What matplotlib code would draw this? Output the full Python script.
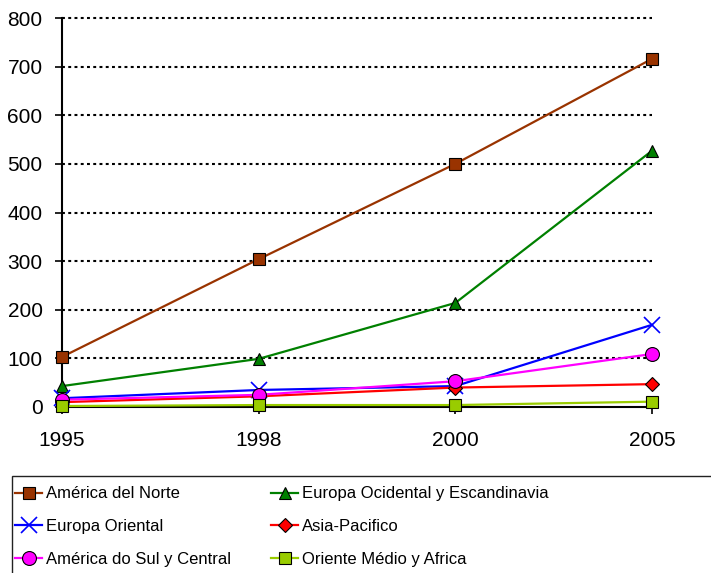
import matplotlib
matplotlib.use("Agg")
import matplotlib.pyplot as plt
from matplotlib.patches import Rectangle

years = ["1995", "1998", "2000", "2005"]
america_norte = [103, 304, 500, 716]
europa_ocidental = [43, 99, 214, 527]
europa_oriental = [18, 35, 43, 169]
asia_pacifico = [10, 22, 40, 47]
america_sul = [15, 25, 53, 109]
oriente_medio = [2, 4, 4, 11]

series = [
    ("América del Norte", america_norte, "#993300", "s"),
    ("Europa Ocidental y Escandinavia", europa_ocidental, "#008000", "^"),
    ("Europa Oriental", europa_oriental, "#0000FF", "x"),
    ("Asia-Pacifico", asia_pacifico, "#FF0000", "D"),
    ("América do Sul y Central", america_sul, "#FF00FF", "o"),
    ("Oriente Médio y Africa", oriente_medio, "#99CC00", "s"),
]

plt.rcParams['font.family'] = ['Liberation Sans', 'DejaVu Sans']

fig = plt.figure(figsize=(7.11, 5.73), dpi=100)
ax = fig.add_axes([62/711, 1-407/573, (652-62)/711, (407-18)/573])

x = list(range(len(years)))
handles = []
for name, vals, color, marker in series:
    if marker == "x":
        h, = ax.plot(x, vals, color=color, lw=1.6, marker=marker, ms=11,
                     mew=1.2, label=name, clip_on=False, zorder=3)
    else:
        ms = {"s": 9, "^": 9, "D": 7, "o": 10}[marker]
        h, = ax.plot(x, vals, color=color, lw=1.6, marker=marker, ms=ms,
                     mfc=color, mec="black", mew=0.8, label=name, clip_on=False, zorder=3)
    handles.append(h)

ax.set_xlim(0, 3)
ax.set_ylim(0, 800)
ax.set_yticks(range(0, 801, 100))
ax.set_xticks(x)
ax.set_xticklabels(years)
for yv in range(100, 801, 100):
    ax.axhline(yv, color="black", lw=1.5, ls=(0, (1.4, 1.6)), zorder=1, clip_on=False)
for s in ["top", "right"]:
    ax.spines[s].set_visible(False)
ax.spines["left"].set_linewidth(1.5)
ax.spines["bottom"].set_linewidth(1.5)
ax.tick_params(axis="both", labelsize=15, width=1.2, length=5, direction="out")
ax.tick_params(axis="x", pad=12)
ax.tick_params(axis="y", pad=9)

fig.patches.append(Rectangle((12/711, -0.05), 0.99, 1-476/573+0.05,
                             transform=fig.transFigure, fill=False,
                             edgecolor="#222222", lw=1.0))

legfont = dict(family=['Liberation Sans', 'DejaVu Sans'], size=12)
col_x = [12/711, 268/711]
for ci, idx in enumerate([[0, 2, 4], [1, 3, 5]]):
    leg = fig.legend(handles=[handles[i] for i in idx], loc="upper left",
                     bbox_to_anchor=(col_x[ci], 1-483/573), prop=legfont,
                     frameon=False, borderaxespad=0, borderpad=0.2,
                     handlelength=1.6, handletextpad=0.25, labelspacing=1.07)
    for ln in leg.get_lines():
        ln.set_linewidth(1.6)

fig.savefig("out.png", dpi=100)
